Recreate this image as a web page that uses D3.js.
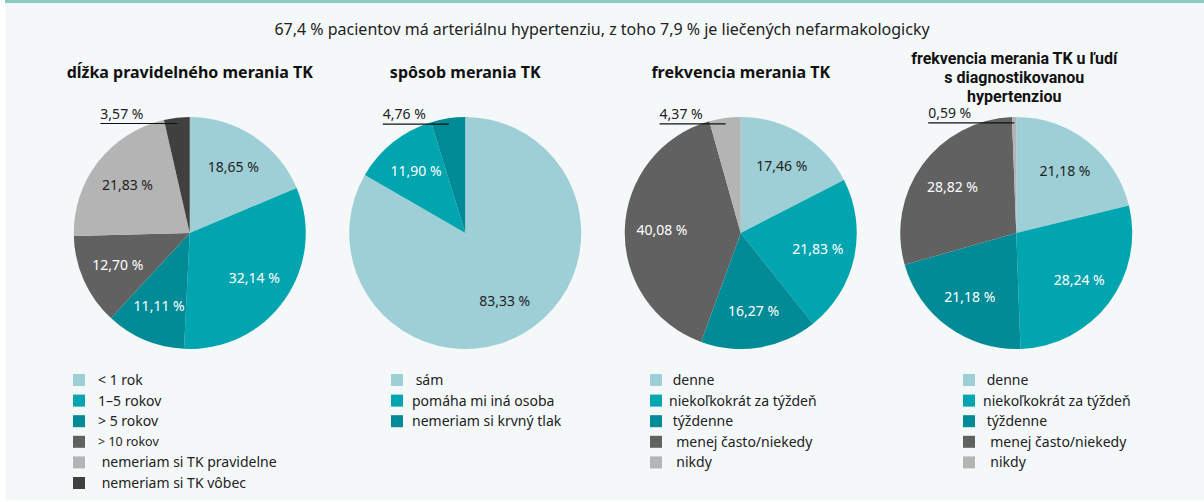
<!DOCTYPE html>
<html>
<head>
<meta charset="utf-8">
<script src="https://cdn.jsdelivr.net/npm/d3@7"></script>
<style>
  html, body { margin: 0; padding: 0; background: #ffffff; }
  svg { display: block; font-family: "Noto Sans", Roboto, sans-serif; }
  text { white-space: pre; }
</style>
</head>
<body>
<svg id="chart" width="1204" height="502"></svg>
<script>
// ---------- data ----------
const mainTitle = "67,4 % pacientov má arteriálnu hypertenziu, z toho 7,9 % je liečených nefarmakologicky";

const chartTitles = [
  ["dĺžka pravidelného merania TK"],
  ["spôsob merania TK"],
  ["frekvencia merania TK"],
  ["frekvencia merania TK u ľudí", "s diagnostikovanou", "hypertenziou"]
];

const durationCategories = ["< 1 rok", "1–5 rokov", "> 5 rokov", "> 10 rokov", " nemeriam si TK pravidelne", " nemeriam si TK vôbec"];
const durationValues = [18.65, 32.14, 11.11, 12.70, 21.83, 3.57];

const methodCategories = [" sám", "pomáha mi iná osoba", "nemeriam si krvný tlak"];
const methodValues = [83.33, 11.90, 4.76];

const frequencyCategories = [" denne", "niekoľkokrát za týždeň", " týždenne", "  menej často/niekedy", "  nikdy"];
const frequencyValues = [17.46, 21.83, 16.27, 40.08, 4.37];

const hypertensionCategories = [" denne", "niekoľkokrát za týždeň", " týždenne", "  menej často/niekedy", "  nikdy"];
const hypertensionValues = [21.18, 28.24, 21.18, 28.82, 0.59];

// ---------- styles / layout ----------
const palette6 = ["#9ecfd6", "#00a5b0", "#008b96", "#616161", "#b4b4b4", "#404040"];
const palette3 = ["#9ecfd6", "#00a5b0", "#008b96"];
const palette5 = ["#9ecfd6", "#00a5b0", "#008b96", "#616161", "#b4b4b4"];
const darkTextColors = new Set(["#9ecfd6", "#b4b4b4"]);

const charts = [
  { title: chartTitles[0], cats: durationCategories, vals: durationValues, colors: palette6, legendX: 73, textOff: 25, leaderGap: 34, fontSizes: [14,14,14,12.5,14,14] },
  { title: chartTitles[1], cats: methodCategories, vals: methodValues, colors: palette3, legendX: 391, textOff: 21, leaderGap: 23 },
  { title: chartTitles[2], cats: frequencyCategories, vals: frequencyValues, colors: palette5, legendX: 650, textOff: 19, leaderGap: 23 },
  { title: chartTitles[3], cats: hypertensionCategories, vals: hypertensionValues, colors: palette5, legendX: 963, textOff: 20, leaderGap: 43 }
];

const W = 1204, H = 502;
const svg = d3.select("#chart");

// background panel
svg.append("rect").attr("x", 5).attr("y", 0).attr("width", W - 5).attr("height", 500).attr("fill", "#f4f8f8");
svg.append("rect").attr("x", 5).attr("y", 0).attr("width", W - 5).attr("height", 3).attr("fill", "#86cdbf");

svg.append("text")
  .attr("x", 602).attr("y", 35)
  .attr("text-anchor", "middle")
  .attr("font-size", 16)
  .attr("fill", "#222")
  .text(mainTitle);

const xScale = d3.scaleBand().domain(d3.range(charts.length)).range([52, 1154]);
const cy = 233;
const R = 116;
const fmt = v => d3.format(".2f")(v).replace(".", ",") + " %";

const pie = d3.pie().sort(null).value(d => d);
const arc = d3.arc().innerRadius(0).outerRadius(R);
const labelArc = d3.arc().innerRadius(R * 0.68).outerRadius(R * 0.68);
const leaderArc = d3.arc().innerRadius(R * 0.95).outerRadius(R * 0.95);

charts.forEach((c, i) => {
  const cx = xScale(i) + xScale.bandwidth() / 2;
  const g = svg.append("g");

  // title
  const nLines = c.title.length;
  const titleBase = nLines === 1 ? 78 : 64;
  const tx = nLines === 1 ? cx : cx - 2;
  c.title.forEach((line, li) => {
    g.append("text")
      .attr("x", tx)
      .attr("y", titleBase + li * 19)
      .attr("text-anchor", "middle")
      .attr("font-size", 16)
      .attr("font-family", nLines === 1 ? null : "Roboto, 'Noto Sans', sans-serif")
      .attr("font-weight", "bold")
      .attr("fill", "#111")
      .text(line);
  });

  const pg = g.append("g").attr("transform", `translate(${cx},${cy})`);
  const arcs = pie(c.vals);
  pg.selectAll("path").data(arcs).join("path")
    .attr("d", arc)
    .attr("fill", (d, j) => c.colors[j]);

  arcs.forEach((d, j) => {
    if (d.data < 5) {
      const [ex, ey] = leaderArc.centroid(d);
      const t = pg.append("text")
        .attr("x", ex - c.leaderGap).attr("y", ey - 5)
        .attr("text-anchor", "end")
        .attr("font-size", 14)
        .attr("fill", "#222")
        .text(fmt(d.data));
      const bb = t.node().getBBox();
      pg.append("line")
        .attr("x1", bb.x).attr("x2", ex)
        .attr("y1", ey).attr("y2", ey)
        .attr("stroke", "#111").attr("stroke-width", 1.2);
    } else {
      const [lx, ly] = labelArc.centroid(d);
      pg.append("text")
        .attr("x", lx).attr("y", ly)
        .attr("dy", "0.35em")
        .attr("text-anchor", "middle")
        .attr("font-size", 14)
        .attr("fill", darkTextColors.has(c.colors[j]) ? "#222" : "#ffffff")
        .text(fmt(d.data));
    }
  });

  // legend
  const ly = d3.scaleLinear().domain([0, 1]).range([380, 400.6]);
  const lg = g.append("g");
  c.cats.forEach((cat, j) => {
    lg.append("rect")
      .attr("x", c.legendX).attr("y", ly(j) - 6)
      .attr("width", 12).attr("height", 12)
      .attr("fill", c.colors[j]);
    lg.append("text")
      .attr("x", c.legendX + c.textOff).attr("y", ly(j))
      .attr("dy", "0.35em")
      .attr("font-size", c.fontSizes ? c.fontSizes[j] : 14)
      .attr("fill", "#222")
      .text(cat);
  });
});
</script>
</body>
</html>
